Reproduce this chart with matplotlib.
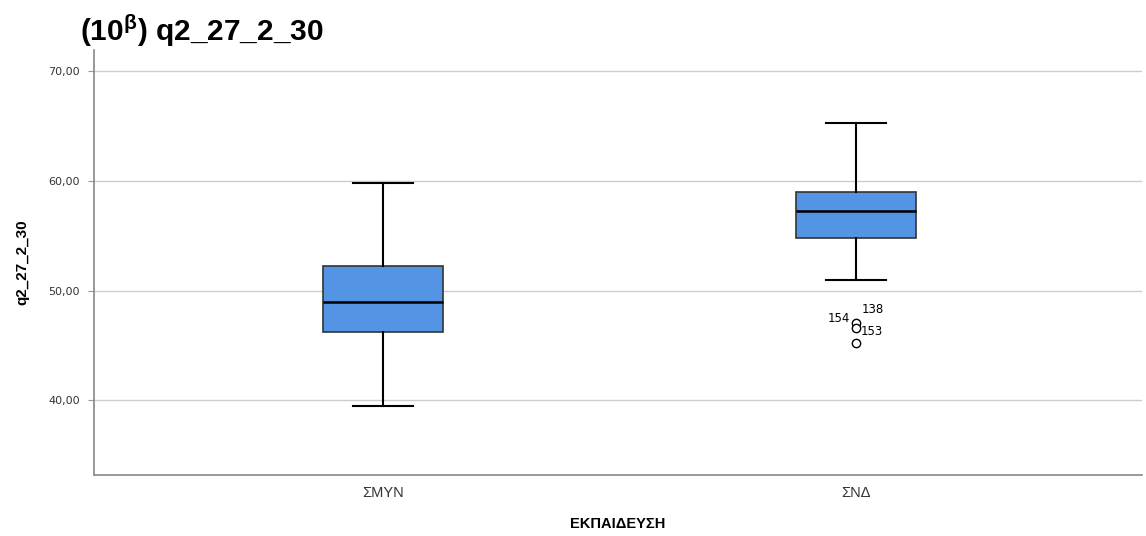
import matplotlib
matplotlib.use("Agg")
import matplotlib.pyplot as plt

plt.rcParams['font.family'] = ['Liberation Sans', 'DejaVu Sans']
plt.rcParams['mathtext.fontset'] = 'custom'
plt.rcParams['mathtext.rm'] = 'Liberation Sans:bold'
plt.rcParams['mathtext.it'] = 'Liberation Sans:bold'
plt.rcParams['mathtext.bf'] = 'Liberation Sans:bold'

categories = ["ΣΜΥΝ", "ΣΝΔ"]
whislo = [39.5, 51.0]
q1 = [46.25, 54.75]
med = [48.97, 57.27]
q3 = [52.25, 59.0]
whishi = [59.75, 65.25]
outliers = [[], [47.08, 46.63, 45.26]]
yticks = [40, 50, 60, 70]

fig = plt.figure(figsize=(11.46, 5.36), dpi=100)
ax = fig.add_axes([94/1146, 1 - 475/536, 1048/1146, 425/536])

stats = []
for i, c in enumerate(categories):
    stats.append(dict(label=c, whislo=whislo[i], q1=q1[i], med=med[i], q3=q3[i],
                      whishi=whishi[i], fliers=outliers[i]))

ax.bxp(stats, positions=[1, 2], widths=0.254, patch_artist=True,
       boxprops=dict(facecolor="#5494E4", edgecolor="#333333", linewidth=1.2),
       medianprops=dict(color="black", linewidth=1.8),
       whiskerprops=dict(color="black", linewidth=1.5),
       capprops=dict(color="black", linewidth=1.5),
       capwidths=0.127,
       flierprops=dict(marker="o", markerfacecolor="white", markeredgecolor="black",
                       markersize=6, markeredgewidth=1.0, linestyle="none"),
       zorder=3)

# outlier labels
ax.annotate("138", (2, outliers[1][0]), xytext=(4, 5), textcoords="offset points",
            fontsize=8.5, ha="left", va="bottom", family="DejaVu Sans")
ax.annotate("154", (2, outliers[1][0]), xytext=(-4, -2), textcoords="offset points",
            fontsize=8.5, ha="right", va="bottom", family="DejaVu Sans")
ax.annotate("153", (2, outliers[1][1]), xytext=(3, -3), textcoords="offset points",
            fontsize=8.5, ha="left", va="center", family="DejaVu Sans")

ax.set_xlim(0.388, 2.605)
ax.set_ylim(33.2, 71.9)
ax.set_yticks(yticks)
ax.set_yticklabels([f"{v:.2f}".replace(".", ",") for v in yticks], fontsize=8,
                   color="#333333", family="DejaVu Sans")
ax.set_xticks([1, 2])
ax.set_xticklabels(categories, fontsize=10.5, color="#333333")
ax.tick_params(axis="x", length=0, pad=8)
ax.tick_params(axis="y", length=4, color="#999999", pad=6)
ax.yaxis.grid(True, color="#cccccc", linewidth=1.0, zorder=0)
ax.set_axisbelow(True)
for s in ["top", "right"]:
    ax.spines[s].set_visible(False)
for s in ["left", "bottom"]:
    ax.spines[s].set_color("#888888")
    ax.spines[s].set_linewidth(1.2)

ax.set_xlabel("ΕΚΠΑΙΔΕΥΣΗ", fontsize=10.5, fontweight="bold", labelpad=12)
ax.set_ylabel("q2_27_2_30", fontsize=11, fontweight="bold", labelpad=14)
fig.text(80/1146, 1 - 31/536, r"(10$^{\mathrm{β}}$) q2_27_2_30", fontsize=21.5,
         fontweight="bold", va="center", ha="left")

fig.savefig("out.png", dpi=100)
